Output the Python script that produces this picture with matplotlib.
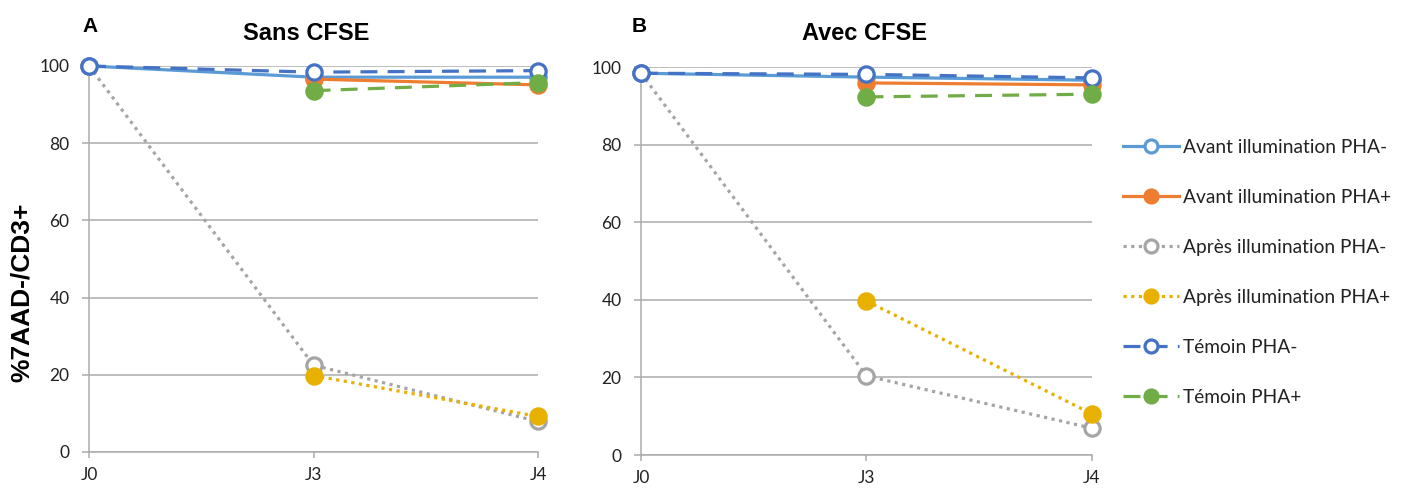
import numpy as np
import matplotlib

matplotlib.use("Agg")
import matplotlib.pyplot as plt
from matplotlib.lines import Line2D

days = ["J0", "J3", "J4"]
labels = [
    "Avant illumination PHA-",
    "Avant illumination PHA+",
    "Après illumination PHA-",
    "Après illumination PHA+",
    "Témoin PHA-",
    "Témoin PHA+",
]

# panel A - Sans CFSE
sans_avant_neg = [100, 97.1, 97.1]
sans_avant_pos = [np.nan, 96.6, 95.1]
sans_apres_neg = [100, 22.5, 7.9]
sans_apres_pos = [np.nan, 19.8, 9.2]
sans_temoin_neg = [100, 98.4, 98.8]
sans_temoin_pos = [np.nan, 93.6, 95.7]

# panel B - Avec CFSE
avec_avant_neg = [98.4, 97.4, 96.6]
avec_avant_pos = [np.nan, 95.9, 95.4]
avec_apres_neg = [98.4, 20.4, 6.9]
avec_apres_pos = [np.nan, 39.7, 10.6]
avec_temoin_neg = [98.4, 98.1, 97.2]
avec_temoin_pos = [np.nan, 92.3, 93.0]

DOT = (0, (1, 1.4))
DASH = (0, (5.3, 3.2))
styles = [
    dict(color="#5B9BD5", ls="-", open=True),
    dict(color="#ED7D31", ls="-", open=False),
    dict(color="#A5A5A5", ls=DOT, open=True),
    dict(color="#E8B000", ls=DOT, open=False),
    dict(color="#4472C4", ls=DASH, open=True),
    dict(color="#70AD47", ls=DASH, open=False),
]

TICK_FONT = "Lato"
GRID = "#ABABAB"


def style_kw(st):
    return dict(
        color=st["color"],
        linestyle=st["ls"],
        lw=2.3,
        marker="o",
        markersize=11,
        markeredgewidth=2.3,
        markeredgecolor=st["color"],
        markerfacecolor="white" if st["open"] else st["color"],
        dash_capstyle="butt",
    )


def draw_panel(ax, series):
    x = np.arange(len(days))
    for vals, st in zip(series, styles):
        ax.plot(x, vals, clip_on=False, zorder=3, **style_kw(st))
    ax.set_xlim(0, 2)
    ax.set_ylim(0, 100)
    ax.set_yticks(range(0, 101, 20))
    ax.set_xticks(x)
    ax.set_xticklabels(days)
    ax.grid(True, axis="y", color=GRID, lw=1.1)
    ax.set_axisbelow(True)
    for s in ["top", "right"]:
        ax.spines[s].set_visible(False)
    for s in ["left", "bottom"]:
        ax.spines[s].set_color(GRID)
        ax.spines[s].set_linewidth(1.1)
    ax.tick_params(axis="y", length=5, width=1.1, color=GRID, pad=9,
                   labelsize=12.5, labelcolor="#222222")
    ax.tick_params(axis="x", length=4.5, width=1.1, color=GRID, pad=6,
                   labelsize=12.5, labelcolor="#222222")
    for t in ax.get_xticklabels() + ax.get_yticklabels():
        t.set_fontfamily(TICK_FONT)


fig = plt.figure(figsize=(14.11, 4.95), dpi=100)
ax1 = fig.add_axes([0.0631, 0.0869, 0.3182, 0.7798])
ax2 = fig.add_axes([0.4543, 0.0808, 0.3196, 0.7838])

draw_panel(ax1, [sans_avant_neg, sans_avant_pos, sans_apres_neg,
                 sans_apres_pos, sans_temoin_neg, sans_temoin_pos])
draw_panel(ax2, [avec_avant_neg, avec_avant_pos, avec_apres_neg,
                 avec_apres_pos, avec_temoin_neg, avec_temoin_pos])

bold = dict(family="Liberation Sans", fontweight="bold", color="black")
fig.text(306 / 1411, 1 - 34 / 495, "Sans CFSE", ha="center", va="center",
         fontsize=17, **bold)
fig.text(864 / 1411, 1 - 34 / 495, "Avec CFSE", ha="center", va="center",
         fontsize=17, **bold)
fig.text(90 / 1411, 1 - 26 / 495, "A", ha="center", va="center",
         fontsize=15, **bold)
fig.text(639 / 1411, 1 - 26 / 495, "B", ha="center", va="center",
         fontsize=15, **bold)
fig.text(22 / 1411, 1 - 292 / 495, "%7AAD-/CD3+", ha="center", va="center",
         rotation=90, fontsize=19, **bold)

handles = [Line2D([], [], **style_kw(st)) for st in styles]
fig.legend(
    handles,
    labels,
    loc="upper left",
    bbox_to_anchor=(1123 / 1411, 1 - 139 / 495),
    frameon=False,
    numpoints=1,
    markerscale=0.85,
    handlelength=2.9,
    handletextpad=0.25,
    labelspacing=1.72,
    borderpad=0,
    borderaxespad=0,
    prop=dict(family=TICK_FONT, size=13.8),
    labelcolor="#222222",
)

fig.savefig("out.png", dpi=100)
